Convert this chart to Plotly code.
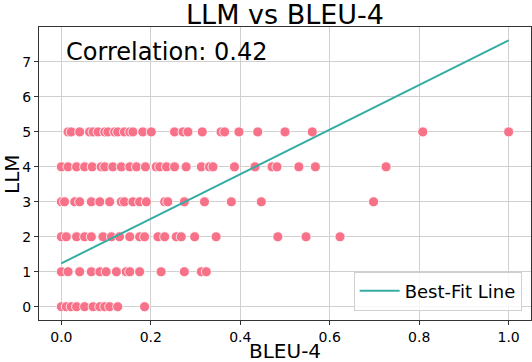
import plotly.graph_objects as go

# Data (BLEU-4 score per LLM rating level)
bleu_0 = [0.0, 0.011, 0.022, 0.034, 0.052, 0.071, 0.086, 0.097, 0.108, 0.126, 0.186]
bleu_1 = [0.0, 0.015, 0.041, 0.067, 0.086, 0.100, 0.123, 0.145, 0.153, 0.175, 0.223, 0.275, 0.313, 0.324]
bleu_2 = [0.0, 0.011, 0.034, 0.052, 0.067, 0.093, 0.112, 0.130, 0.153, 0.175, 0.186, 0.216, 0.231,
          0.257, 0.268, 0.298, 0.346, 0.484, 0.547, 0.623]
bleu_3 = [0.0, 0.007, 0.030, 0.041, 0.067, 0.086, 0.108, 0.134, 0.141, 0.160, 0.175, 0.190, 0.231,
          0.238, 0.275, 0.320, 0.380, 0.447, 0.698]
bleu_4 = [0.0, 0.015, 0.034, 0.052, 0.069, 0.089, 0.097, 0.115, 0.134, 0.153, 0.168, 0.188, 0.212,
          0.220, 0.235, 0.253, 0.279, 0.313, 0.331, 0.339, 0.387, 0.433, 0.471, 0.482, 0.531, 0.568, 0.726]
bleu_5 = [0.015, 0.022, 0.041, 0.063, 0.071, 0.082, 0.097, 0.104, 0.119, 0.126, 0.141, 0.153, 0.160,
          0.182, 0.201, 0.253, 0.272, 0.283, 0.315, 0.357, 0.365, 0.397, 0.439, 0.500, 0.561, 0.808, 1.0]
llm_levels = [0, 1, 2, 3, 4, 5]

fit_x = [0.0, 1.0]
fit_y = [1.24, 7.62]
corr_label = "Correlation: 0.42"

x_ticks = [0.0, 0.2, 0.4, 0.6, 0.8, 1.0]
x_tick_text = ["0.0", "0.2", "0.4", "0.6", "0.8", "1.0"]
y_ticks = [0, 1, 2, 3, 4, 5, 6, 7]

groups = [bleu_0, bleu_1, bleu_2, bleu_3, bleu_4, bleu_5]
xs, ys = [], []
for lvl, vals in zip(llm_levels, groups):
    xs.extend(vals)
    ys.extend([lvl] * len(vals))

FONT = "DejaVu Sans"
fig = go.Figure()
fig.add_trace(go.Scatter(
    x=xs, y=ys, mode="markers", showlegend=False, cliponaxis=False,
    marker=dict(color="#f77189", size=10, line=dict(color="white", width=0.8)),
))
fig.add_trace(go.Scatter(
    x=fit_x, y=fit_y, mode="lines", name="Best-Fit Line",
    line=dict(color="#36ada4", width=2),
))

fig.update_layout(
    width=532, height=362,
    margin=dict(l=39, r=1, t=27, b=42, autoexpand=False),
    paper_bgcolor="white", plot_bgcolor="white",
    font=dict(family=FONT, color="black"),
    title=dict(text="LLM vs BLEU-4", font=dict(size=27, family=FONT, color="black"),
               x=(39 + 531) / 2 / 532, xanchor="center", xref="container",
               y=1 - 14.5 / 362, yanchor="middle", yref="container"),
    legend=dict(x=0.981, y=0.032, xanchor="right", yanchor="bottom",
                bgcolor="rgba(255,255,255,0.8)", bordercolor="#d0d0d0", borderwidth=1,
                font=dict(size=18, family=FONT, color="black"), itemwidth=40,
                tracegroupgap=0),
    annotations=[
        dict(text=corr_label, xref="paper", yref="paper", x=0.05, y=0.97,
             xanchor="left", yanchor="top", showarrow=False,
             font=dict(size=24, family=FONT, color="black")),
        dict(text="BLEU-4", xref="paper", yref="paper", x=0.5, y=-0.105,
             xanchor="center", yanchor="middle", showarrow=False,
             font=dict(size=20, family=FONT, color="black")),
        dict(text="LLM", xref="paper", yref="paper", x=-0.056, y=0.5, textangle=-90,
             xanchor="center", yanchor="middle", showarrow=False,
             font=dict(size=20, family=FONT, color="black")),
    ],
)
fig.update_xaxes(range=[-0.05, 1.05], tickvals=x_ticks, ticktext=x_tick_text, automargin=False,
                 showgrid=True, gridcolor="#d0d0d0", gridwidth=1.2, zeroline=False,
                 showline=True, linecolor="#333333", linewidth=1, mirror=True,
                 ticks="outside", ticklen=4, tickcolor="#333333",
                 tickfont=dict(size=14, family=FONT, color="black"))
fig.update_yaxes(range=[-0.38, 8.0], tickvals=y_ticks, automargin=False,
                 showgrid=True, gridcolor="#d0d0d0", gridwidth=1.2, zeroline=False,
                 showline=True, linecolor="#333333", linewidth=1, mirror=True,
                 ticks="outside", ticklen=4, tickcolor="#333333",
                 tickfont=dict(size=14, family=FONT, color="black"))

fig.write_html("out.html", config={"displayModeBar": False},
               post_script="document.body.style.margin='0';")
